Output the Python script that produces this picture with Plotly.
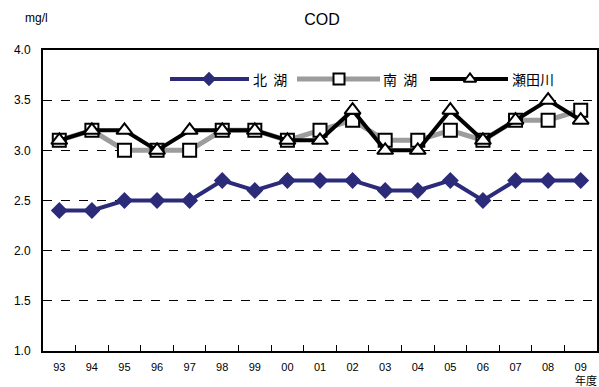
import plotly.graph_objects as go

years = ["93", "94", "95", "96", "97", "98", "99", "00", "01", "02",
         "03", "04", "05", "06", "07", "08", "09"]
kita = [2.4, 2.4, 2.5, 2.5, 2.5, 2.7, 2.6, 2.7, 2.7, 2.7, 2.6, 2.6, 2.7, 2.5, 2.7, 2.7, 2.7]
minami = [3.1, 3.2, 3.0, 3.0, 3.0, 3.2, 3.2, 3.1, 3.2, 3.3, 3.1, 3.1, 3.2, 3.1, 3.3, 3.3, 3.4]
seta = [3.1, 3.2, 3.2, 3.0, 3.2, 3.2, 3.2, 3.1, 3.1, 3.4, 3.0, 3.0, 3.4, 3.1, 3.3, 3.5, 3.3]
series_names = ["北  湖", "南  湖", "瀬田川"]
y_ticks = [1.0, 1.5, 2.0, 2.5, 3.0, 3.5, 4.0]

NAVY = "#2b2b7a"
GRAY = "#9c9c9c"
FONT = "Noto Sans CJK JP"

W, H = 599, 387
L, R, T, B = 43, 2, 50, 36
PW, PH = W - L - R, H - T - B

fig = go.Figure()

fig.add_trace(go.Scatter(
    x=years, y=kita, mode="lines+markers", name=series_names[0],
    line=dict(color=NAVY, width=4),
    marker=dict(symbol="diamond", size=13, color=NAVY),
    showlegend=False))
fig.add_trace(go.Scatter(
    x=years, y=minami, mode="lines+markers", name=series_names[1],
    line=dict(color=GRAY, width=5),
    marker=dict(symbol="square", size=13, color="white",
                line=dict(color="black", width=2)),
    showlegend=False))
fig.add_trace(go.Scatter(
    x=years, y=seta, mode="lines+markers", name=series_names[2],
    line=dict(color="black", width=4),
    marker=dict(symbol="triangle-up", size=14, color="white",
                line=dict(color="black", width=2)),
    showlegend=False))

# custom legend drawn on an overlay axis in pixel-like units
leg_y = 79
legend_items = [
    (170, 249, 209, NAVY, 4, dict(symbol="diamond", size=11, color=NAVY)),
    (297, 380, 339, GRAY, 5, dict(symbol="square", size=11, color="white", line=dict(color="black", width=2))),
    (430, 508, 470, "black", 4, dict(symbol="triangle-up", size=11, color="white", line=dict(color="black", width=2))),
]
text_x = [251, 381, 510]
for (x0, x1, xm, col, lw, mk), tx, nm in zip(legend_items, text_x, series_names):
    fig.add_trace(go.Scatter(x=[x0, x1], y=[leg_y, leg_y], mode="lines",
                             line=dict(color=col, width=lw), xaxis="x2", yaxis="y2",
                             showlegend=False, hoverinfo="skip"))
    fig.add_trace(go.Scatter(x=[xm], y=[leg_y], mode="markers", marker=mk,
                             xaxis="x2", yaxis="y2", showlegend=False, hoverinfo="skip"))
    fig.add_annotation(x=tx, y=leg_y, xref="x2", yref="y2", text=nm, showarrow=False,
                       xanchor="left", yanchor="middle",
                       font=dict(family=FONT, size=14, color="black"))

fig.update_layout(
    width=W, height=H,
    margin=dict(l=L, r=R, t=T, b=B, autoexpand=False),
    paper_bgcolor="white", plot_bgcolor="white",
    font=dict(family=FONT, color="black"),
    title=dict(text="COD", x=(322 / W), xanchor="center", y=1 - 19 / H, yanchor="middle",
               font=dict(family="Liberation Sans", size=16, color="black")),
    xaxis=dict(type="category", categoryorder="array", categoryarray=years,
               range=[-0.5, len(years) - 0.5],
               showline=True, linecolor="black", linewidth=2, mirror=True,
               ticks="inside", ticklen=6, tickcolor="black", tickwidth=1,
               tickson="boundaries", showgrid=False, automargin=False,
               ticklabelstandoff=5,
               tickfont=dict(family="Liberation Sans", size=11, color="black")),
    yaxis=dict(range=[1.0, 4.0], tickvals=y_ticks, tickformat=".1f",
               showline=True, linecolor="black", linewidth=2, mirror=True,
               showgrid=True, gridcolor="black", griddash="dash", gridwidth=1,
               zeroline=False, ticks="", ticklabelstandoff=8, automargin=False,
               tickfont=dict(family="Liberation Sans", size=12, color="black")),
    xaxis2=dict(overlaying="x", range=[L, W - R], visible=False, fixedrange=True),
    yaxis2=dict(overlaying="y", range=[H - B, T], visible=False, fixedrange=True),
    showlegend=False,
)

fig.add_annotation(x=(36 - L) / PW, y=(H - B - 18) / PH, xref="paper", yref="paper", text="mg/l",
                   showarrow=False, xanchor="center", yanchor="middle",
                   font=dict(family="Liberation Sans", size=12, color="black"))
fig.add_annotation(x=(599 - L) / PW, y=-(29 / PH), xref="paper", yref="paper",
                   text="年度", showarrow=False, xanchor="right", yanchor="middle",
                   font=dict(family=FONT, size=11, color="black"))

fig.write_html("out.html")
